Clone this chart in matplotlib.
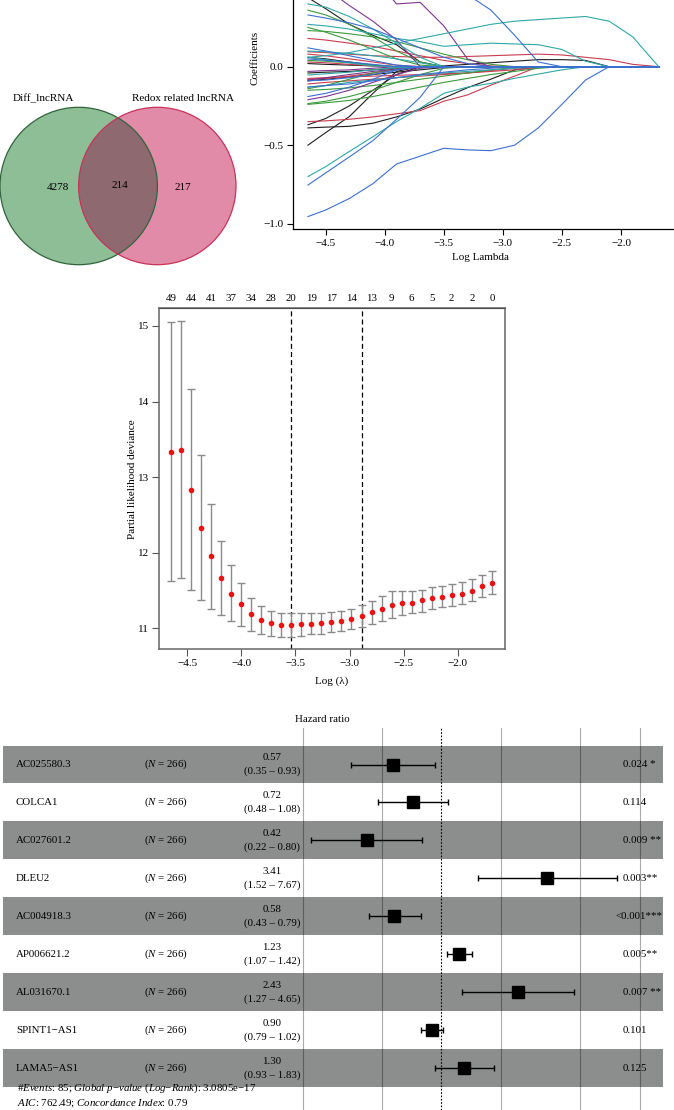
import numpy as np
import matplotlib
matplotlib.use("Agg")
import matplotlib.pyplot as plt
from matplotlib.patches import Circle
from matplotlib.transforms import blended_transform_factory

plt.rcParams['font.family'] = ['Liberation Serif', 'DejaVu Serif']
plt.rcParams['mathtext.fontset'] = 'custom'
plt.rcParams['mathtext.rm'] = 'Liberation Serif'
plt.rcParams['mathtext.it'] = 'Liberation Serif:italic'
plt.rcParams['font.size'] = 7.5

W, H = 674, 1110

# ---------------- data: venn
venn_labels = ['Diff_lncRNA', 'Redox related lncRNA']
venn_counts = [4278, 214, 217]

# ---------------- data: lasso coefficient paths (read at these log lambda values)
loglam_grid = [-4.65, -4.5, -4.3, -4.1, -3.9, -3.7, -3.5, -3.3, -3.1, -2.9,
               -2.7, -2.5, -2.3, -2.1, -1.9, -1.68]

coef_black = [
    [0.44, 0.37, 0.27, 0.20, 0.14, 0.03, 0],
    [-0.50, -0.42, -0.318, -0.17, -0.03, 0],
    [-0.39, -0.385, -0.38, -0.36, -0.32, -0.27, -0.20, -0.134, -0.079, -0.02, 0],
    [0.02, 0.015, 0.01, 0.005, 0.0, 0.0, 0.005, 0.015, 0.025, 0.035, 0.045, 0.045, 0.04, 0],
    [-0.37, -0.33, -0.25, -0.15, -0.05, 0],
    [0.06, 0.05, 0.03, 0.01, 0],
    [-0.04, -0.035, -0.03, -0.02, -0.01, 0],
    [-0.09, -0.08, -0.065, -0.05, -0.035, -0.02, -0.005, 0],
]
coef_red = [
    [-0.35, -0.345, -0.335, -0.32, -0.30, -0.28, -0.22, -0.18, -0.117, -0.06, 0],
    [0.18, 0.17, 0.15, 0.13, 0.10, 0.07, 0.04, 0.02, 0.005, 0],
    [0.095, 0.09, 0.08, 0.07, 0.065, 0.06, 0.06, 0.065, 0.07, 0.075, 0.08, 0.075, 0.06, 0.045, 0.015, 0],
    [-0.075, -0.07, -0.065, -0.06, -0.055, -0.05, -0.045, -0.04, -0.03, -0.02, -0.005, 0],
    [0.08, 0.07, 0.05, 0.03, 0.01, 0],
    [-0.08, -0.075, -0.06, -0.04, -0.02, 0],
    [0.03, 0.025, 0.015, 0.005, 0],
    [-0.11, -0.1, -0.09, -0.08, -0.07, -0.06, -0.05, -0.04, -0.025, -0.01, 0],
]
coef_green = [
    [0.36, 0.33, 0.27, 0.19, 0.10, 0.03, 0],
    [0.23, 0.225, 0.21, 0.19, 0.16, 0.12, 0.08, 0.045, 0.015, 0],
    [-0.24, -0.23, -0.215, -0.19, -0.16, -0.13, -0.10, -0.075, -0.05, -0.03, -0.01, 0],
    [-0.235, -0.22, -0.19, -0.15, -0.10, -0.05, -0.01, 0],
    [-0.15, -0.145, -0.135, -0.12, -0.10, -0.08, -0.06, -0.04, -0.02, -0.005, 0],
    [0.04, 0.035, 0.025, 0.01, 0],
    [-0.14, -0.12, -0.08, -0.04, -0.01, 0],
    [0.25, 0.22, 0.17, 0.11, 0.05, 0.01, 0],
]
coef_purple = [
    [0.62, 0.50, 0.39, 0.29, 0.17, 0],
    [1.0, 0.9, 0.75, 0.58, 0.40, 0.41, 0.26, 0.05, 0],
    [-0.21, -0.19, -0.15, -0.10, -0.05, -0.01, 0],
    [-0.03, -0.025, -0.02, -0.01, 0],
    [-0.085, -0.07, -0.05, -0.03, -0.015, -0.005, 0],
]
coef_teal = [
    [0.06, 0.07, 0.09, 0.12, 0.15, 0.18, 0.21, 0.24, 0.27, 0.29, 0.30, 0.31, 0.32, 0.29, 0.19, 0],
    [-0.70, -0.637, -0.54, -0.446, -0.35, -0.265, -0.17, -0.13, -0.106, -0.074, -0.047, -0.02, 0],
    [0.40, 0.38, 0.32, 0.24, 0.15, 0.06, 0],
    [0.27, 0.26, 0.24, 0.21, 0.18, 0.16, 0.13, 0.14, 0.15, 0.145, 0.14, 0.11, 0.035, 0],
    [-0.053, -0.045, -0.035, -0.02, -0.005, 0],
    [0.06, 0.045, 0.025, 0.005, 0],
    [-0.13, -0.12, -0.1, -0.085, -0.07, -0.055, -0.04, -0.03, -0.02, -0.01, 0],
    [0.1, 0.095, 0.085, 0.07, 0.05, 0.025, 0],
]
coef_blue = [
    [-0.955, -0.913, -0.84, -0.745, -0.62, -0.57, -0.52, -0.53, -0.535, -0.50, -0.39, -0.24, -0.085, 0],
    [-0.754, -0.677, -0.575, -0.471, -0.335, -0.195, 0],
    [0.75, 0.72, 0.68, 0.64, 0.60, 0.56, 0.52, 0.46, 0.36, 0.20, 0.03, 0],
    [0.33, 0.31, 0.28, 0.24, 0.18, 0.12, 0.06, 0.02, 0],
    [-0.19, -0.17, -0.13, -0.08, -0.02, 0],
    [-0.13, -0.12, -0.11, -0.09, -0.07, -0.05, -0.035, -0.02, -0.01, 0],
    [0.05, 0.04, 0.03, 0.015, 0],
    [-0.09, -0.085, -0.07, -0.05, -0.02, 0],
    [0.12, 0.1, 0.07, 0.04, 0.01, 0],
]

# ---------------- data: cross validation
cv_loglam = [-4.651, -4.559, -4.466, -4.374, -4.281, -4.189, -4.093, -4.001, -3.908,
             -3.816, -3.723, -3.631, -3.538, -3.446, -3.353, -3.261, -3.168, -3.076,
             -2.983, -2.888, -2.795, -2.703, -2.610, -2.518, -2.425, -2.333, -2.240,
             -2.148, -2.056, -1.960, -1.867, -1.775, -1.679]
cv_mean = [13.33, 13.355, 12.83, 12.33, 11.96, 11.67, 11.46, 11.32, 11.19, 11.105,
           11.066, 11.05, 11.05, 11.053, 11.06, 11.07, 11.083, 11.096, 11.127, 11.167,
           11.21, 11.26, 11.31, 11.33, 11.34, 11.37, 11.40, 11.42, 11.44, 11.46,
           11.50, 11.557, 11.605]
cv_upper = [15.05, 15.07, 14.17, 13.29, 12.65, 12.15, 11.84, 11.60, 11.40, 11.29,
            11.23, 11.20, 11.20, 11.20, 11.20, 11.20, 11.21, 11.23, 11.26, 11.31,
            11.36, 11.43, 11.49, 11.49, 11.49, 11.51, 11.54, 11.56, 11.58, 11.61,
            11.65, 11.70, 11.76]
cv_lower = [11.62, 11.67, 11.51, 11.37, 11.26, 11.18, 11.09, 11.03, 10.965, 10.92,
            10.895, 10.89, 10.89, 10.90, 10.92, 10.93, 10.95, 10.96, 10.99, 11.02,
            11.06, 11.09, 11.13, 11.17, 11.20, 11.22, 11.26, 11.28, 11.30, 11.32,
            11.36, 11.41, 11.45]
cv_nzero = [49, 44, 41, 37, 34, 28, 20, 19, 17, 14, 13, 9, 6, 5, 2, 2, 0]
loglam_min = -3.538
loglam_1se = -2.888

# ---------------- data: forest plot
genes = ['AC025580.3', 'COLCA1', 'AC027601.2', 'DLEU2', 'AC004918.3',
         'AP006621.2', 'AL031670.1', 'SPINT1\u2212AS1', 'LAMA5\u2212AS1']
hr = [0.57, 0.72, 0.42, 3.41, 0.58, 1.23, 2.43, 0.90, 1.30]
hr_lo = [0.35, 0.48, 0.22, 1.52, 0.43, 1.07, 1.27, 0.79, 0.93]
hr_hi = [0.93, 1.08, 0.80, 7.67, 0.79, 1.42, 4.65, 1.02, 1.83]
p_text = ['0.024 *', '0.114', '0.009 **', '0.003**', '<0.001***',
          '0.005**', '0.007 **', '0.101', '0.125']
hr_breaks = [0.2, 0.5, 2, 5, 10]


fig = plt.figure(figsize=(W / 100, H / 100), dpi=100)


def px_axes(left, top, right, bottom):
    return fig.add_axes([left / W, 1 - bottom / H, (right - left) / W, (bottom - top) / H])


def ftext(x, y, s, **kw):
    return fig.text(x / W, 1 - y / H, s, **kw)


# ================= A: venn
ax = px_axes(0, 0, 280, 280)
ax.set_xlim(0, 280)
ax.set_ylim(280, 0)
ax.axis('off')
r = 78.7
c_left = Circle((78.7, 186), r, facecolor='#8dbe96', edgecolor='none', clip_on=False)
c_right = Circle((157.3, 186), r, facecolor='#e28ba8', edgecolor='none', clip_on=False)
ax.add_patch(c_left)
ax.add_patch(c_right)
lens = Circle((157.3, 186), r, facecolor='#8e6a70', edgecolor='none')
ax.add_patch(lens)
lens.set_clip_path(c_left)
ax.add_patch(Circle((78.7, 186), r, fill=False, edgecolor='#30643c', lw=0.9, clip_on=False))
ax.add_patch(Circle((157.3, 186), r, fill=False, edgecolor='#c8325a', lw=0.9, clip_on=False))
ax.text(43.3, 98.3, venn_labels[0], ha='center', va='center', fontsize=8)
ax.text(182.7, 98.3, venn_labels[1], ha='center', va='center', fontsize=8)
ax.text(58.3, 187, str(venn_counts[0]), ha='center', va='center', fontsize=8)
ax.text(120, 185, str(venn_counts[1]), ha='center', va='center', fontsize=8)
ax.text(182.7, 187, str(venn_counts[2]), ha='center', va='center', fontsize=8)

# ================= B: coefficient paths
ax = px_axes(293.3, 0, 676, 229.3)
groups = [(coef_black, '#1e1e1e'), (coef_red, '#c83c50'), (coef_green, '#3c9a3c'),
          (coef_purple, '#7d3590'), (coef_teal, '#2fa8a8'), (coef_blue, '#3c6fd2')]
n = len(loglam_grid)
for paths, col in groups:
    for ys in paths:
        ys = list(ys) + [0] * (n - len(ys))
        ax.plot(loglam_grid, ys, color=col, lw=0.8)
ax.set_xlim(-4.774, -1.534)
ax.set_ylim(-1.036, 0.425)
ax.set_xticks([-4.5, -4.0, -3.5, -3.0, -2.5, -2.0])
ax.set_yticks([-1.0, -0.5, 0.0])
ax.spines['top'].set_visible(False)
ax.spines['right'].set_visible(False)
for s in ['left', 'bottom']:
    ax.spines[s].set_linewidth(0.9)
ax.tick_params(labelsize=8, length=4.3, width=0.8, pad=2.5)
ftext(255, 58, 'Coefficients', rotation=90, ha='center', va='center', fontsize=8)
ftext(480, 257, 'Log Lambda', ha='center', va='center', fontsize=8)

# ================= C: cross validation
ax = px_axes(158.7, 308.3, 505.3, 649.3)
cv_mean_a = np.array(cv_mean)
ax.errorbar(cv_loglam, cv_mean,
            yerr=[cv_mean_a - np.array(cv_lower), np.array(cv_upper) - cv_mean_a],
            fmt='o', color='#ee1111', ms=3, ecolor='#8a8a8a', elinewidth=1,
            capsize=2.6, capthick=1, zorder=3)
ax.axvline(loglam_min, color='black', ls=(0, (4, 2.5)), lw=0.9)
ax.axvline(loglam_1se, color='black', ls=(0, (4, 2.5)), lw=0.9)
ax.set_xlim(-4.765, -1.559)
ax.set_ylim(10.722, 15.234)
ax.set_xticks([-4.5, -4.0, -3.5, -3.0, -2.5, -2.0])
ax.set_yticks([11, 12, 13, 14, 15])
for s in ax.spines.values():
    s.set_color('#666666')
    s.set_linewidth(1.1)
ax.tick_params(labelsize=8, length=5, width=0.8, color='#555555', pad=2)
top = ax.secondary_xaxis('top')
top.set_xticks(cv_loglam[::2], [str(v) for v in cv_nzero])
top.tick_params(length=0, labelsize=7.8, pad=3.5)
ftext(132.7, 478.8, 'Partial likelihood deviance', rotation=90, ha='center', va='center', fontsize=8)
ftext(332, 681, 'Log (\u03bb)', ha='center', va='center', fontsize=8)

# ================= D: forest plot
ax = px_axes(0, 728, 674, 1110)
ax.set_xscale('log')
ax.set_xlim(0.006, 14.8)
ax.set_ylim(9.106, -0.962)
ax.axis('off')
rows = np.arange(len(genes))
for i in rows[::2]:
    ax.axhspan(i - 0.5, i + 0.5, xmin=2.7 / W, xmax=662.7 / W, color='#8b8e8d', lw=0, zorder=0)
for b in hr_breaks:
    ax.axvline(b, color='black', alpha=0.33, lw=0.8, zorder=1)
ax.axvline(1, color='black', ls=(0, (1.5, 1.5)), lw=0.8, zorder=1)
hr_a = np.array(hr)
ax.errorbar(hr, rows, xerr=[hr_a - np.array(hr_lo), np.array(hr_hi) - hr_a],
            fmt='s', color='black', ms=8.5, elinewidth=1, capsize=2.5, capthick=1, zorder=3)
tr = blended_transform_factory(ax.transAxes, ax.transData)
for i in rows:
    ax.text(16 / W, i, genes[i], transform=tr, ha='left', va='center', fontsize=7.8)
    ax.text(144.3 / W, i, r'($\it{N}$ = 266)', transform=tr, ha='left', va='center', fontsize=7.8)
    ax.text(271.7 / W, i - 0.18, f'{hr[i]:.2f}', transform=tr, ha='center', va='center', fontsize=7.8)
    ax.text(271.7 / W, i + 0.18, f'({hr_lo[i]:.2f} \u2013 {hr_hi[i]:.2f})', transform=tr,
            ha='center', va='center', fontsize=7.8)
    px = 615 if p_text[i].startswith('<') else 623
    ax.text(px / W, i, p_text[i], transform=tr, ha='left', va='center', fontsize=7.8)
ftext(322.3, 720, 'Hazard ratio', ha='center', va='center', fontsize=7.8)
ftext(16.7, 1088, '#' + r'$\it{Events}$: 85; $\it{Global\ p}$' + '\u2212' + r'$\it{value}$ ($\it{Log}$'
      + '\u2212' + r'$\it{Rank}$): 3.0805e' + '\u221217', ha='left', va='center', fontsize=7.8)
ftext(16.7, 1103, r'$\it{AIC}$: 762.49; $\it{Concordance\ Index}$: 0.79', ha='left', va='center',
      fontsize=7.8)

fig.savefig('out.png', dpi=100)
